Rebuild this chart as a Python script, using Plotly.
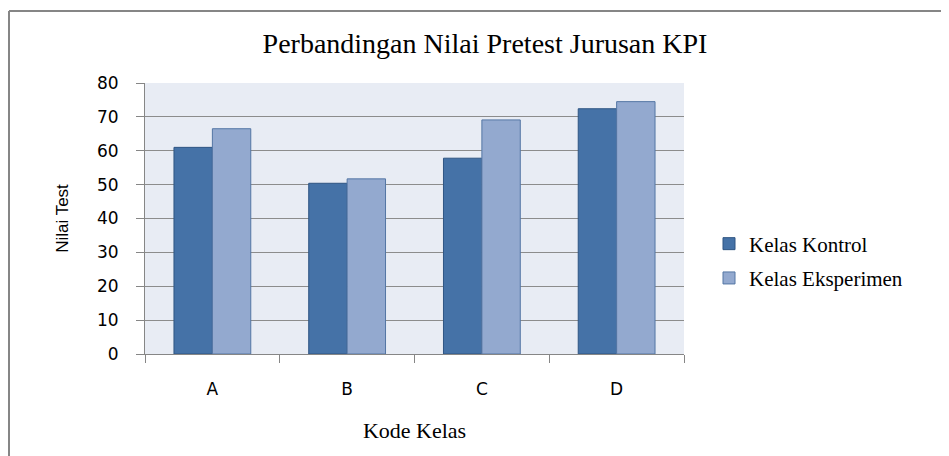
import plotly.graph_objects as go

categories = ["A", "B", "C", "D"]
kontrol = [61.0, 50.4, 57.8, 72.4]
eksperimen = [66.5, 51.7, 69.1, 74.5]
series_names = ["Kelas Kontrol", "Kelas Eksperimen"]
y_ticks = [0, 10, 20, 30, 40, 50, 60, 70, 80]

fig = go.Figure()
fig.add_trace(go.Bar(x=categories, y=kontrol, name=series_names[0], legendgroup="k",
                     marker=dict(color="#4572a7", line=dict(color="#2f5583", width=1))))
fig.add_trace(go.Bar(x=categories, y=eksperimen, name=series_names[1], legendgroup="e",
                     marker=dict(color="#93a9cf", line=dict(color="#5476a4", width=1))))

# page body has an 8px default margin, so the figure is sized for that
W, H = 941, 448
L, R, T, B = 137, 265, 75, 102
PW, PH = W - L - R, H - T - B

fig.update_layout(
    width=W, height=H,
    margin=dict(l=L, r=R, t=T, b=B),
    paper_bgcolor="white",
    plot_bgcolor="#e8ecf4",
    barmode="group",
    bargap=0.43,
    bargroupgap=0,
    showlegend=True,
    legend=dict(x=(701 - L) / PW, y=(H - B - 253) / PH,
                xanchor="left", yanchor="middle",
                font=dict(family="Liberation Serif", size=21, color="black"),
                bgcolor="rgba(0,0,0,0)", tracegroupgap=4, itemwidth=30),
    title=dict(text="Perbandingan Nilai Pretest Jurusan KPI",
               font=dict(family="Liberation Serif", size=28, color="black"),
               x=477 / W, xanchor="center", y=1 - 35 / H, yanchor="middle"),
    xaxis=dict(
        showline=True, linecolor="#868686", linewidth=1,
        ticks="outside", ticklen=8, tickcolor="#868686", tickson="boundaries",
        tickfont=dict(family="DejaVu Sans", size=17, color="black"),
        ticklabelstandoff=20,
        title=dict(text="Kode Kelas",
                   font=dict(family="Liberation Serif", size=22, color="black"),
                   standoff=24),
        showgrid=False,
    ),
    yaxis=dict(
        range=[0, 80], tickvals=y_ticks,
        showline=True, linecolor="#868686", linewidth=1,
        ticks="outside", ticklen=8, tickcolor="#868686",
        tickfont=dict(family="DejaVu Sans", size=17, color="black"),
        ticklabelstandoff=14,
        showgrid=True, gridcolor="#8c8c8c", gridwidth=1,
        zeroline=False,
        title=dict(text="Nilai Test",
                   font=dict(family="Liberation Sans", size=17, color="black"),
                   standoff=24),
    ),
    shapes=[
        dict(type="line", xref="paper", yref="paper",
             x0=-(L - 1) / PW, x1=(W - L) / PW,
             y0=(H - B - 3) / PH, y1=(H - B - 3) / PH,
             line=dict(color="#868686", width=2)),
        dict(type="line", xref="paper", yref="paper",
             x0=-(L - 1) / PW, x1=-(L - 1) / PW,
             y0=(H - B - 3) / PH, y1=-B / PH,
             line=dict(color="#868686", width=2)),
    ],
)

fig.write_html("out.html")
